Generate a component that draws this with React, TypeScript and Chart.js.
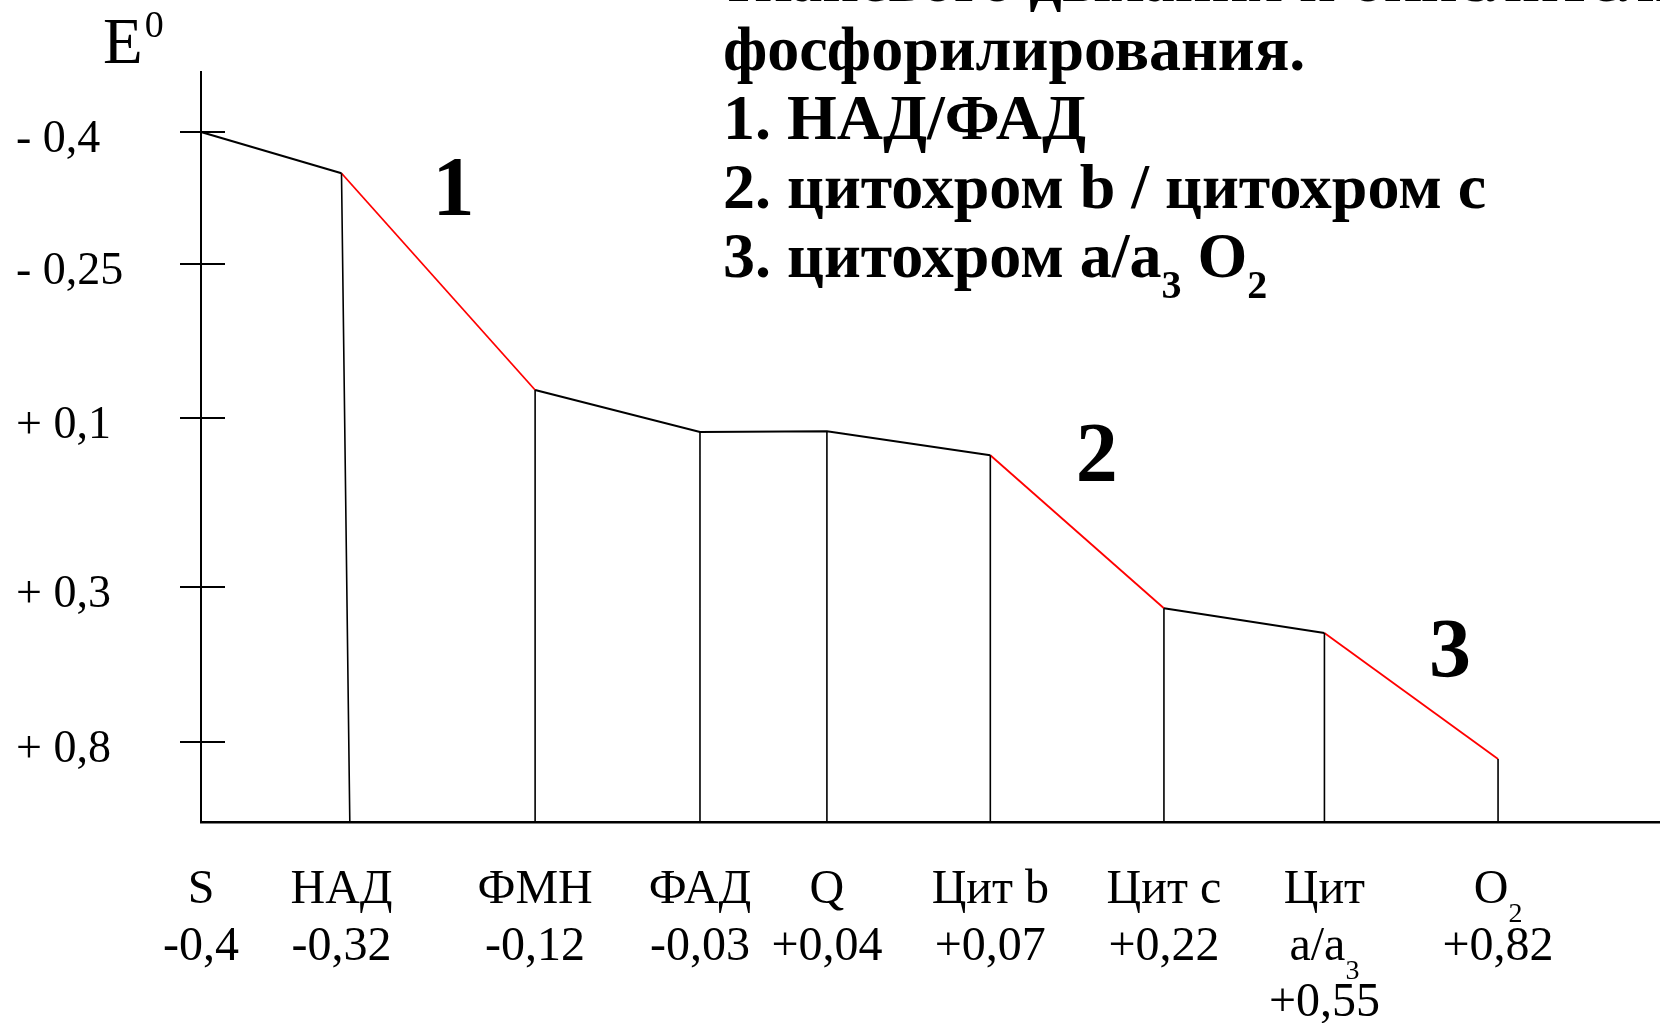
import React, { useEffect, useRef } from "react";
import { Chart, registerables } from "chart.js";

Chart.register(...registerables);

const SERIF = "'Liberation Serif', 'Times New Roman', 'DejaVu Serif', serif";

// x-axis carriers: "|" = line break, "_x" = subscript x
const carriers = ["S", "НАД", "ФМН", "ФАД", "Q", "Цит b", "Цит c", "Цит|a/a_3", "O_2"];
const potentials = ["-0,4", "-0,32", "-0,12", "-0,03", "+0,04", "+0,07", "+0,22", "+0,55", "+0,82"];
// horizontal position of each carrier (axis units 0..100)
const carrierX = [0, 9.63, 22.9, 34.2, 42.9, 54.1, 66.0, 77.0, 88.9];
// plotted level of each carrier on the schematic E0 axis (units 0..100, bottom = 0)
const carrierLevel = [92, 86.5, 57.6, 52.0, 52.1, 48.9, 28.5, 25.2, 8.4];
// foot of each drop line on the x axis
const dropBaseX = [0, 10.2, 22.9, 34.2, 42.9, 54.1, 66.0, 77.0, 88.9];

// y axis ticks
const yTickValues = [92, 74.4, 53.9, 31.3, 10.7];
const yTickLabels = ["- 0,4", "- 0,25", "+ 0,1", "+ 0,3", "+ 0,8"];

// coupling sites (red segments start at these point indices)
const couplingStart = [1, 5, 7];
const couplingNames = ["1", "2", "3"];
const couplingNameX = [17.3, 61.4, 85.6];
const couplingNameY = [84.4, 48.9, 22.7];

const axisTitle = "E";
const axisTitleSup = "0";

const titleLines = [
  "тканевого дыхания и окислительного",
  "фосфорилирования.",
  "1. НАД/ФАД",
  "2. цитохром b / цитохром c",
  "3. цитохром a/a_3 O_2",
];

type Seg = { text: string; sub: boolean };
function parseRich(s: string): Seg[] {
  const segs: Seg[] = [];
  let buf = "";
  for (let i = 0; i < s.length; i++) {
    if (s[i] === "_" && i + 1 < s.length) {
      if (buf) segs.push({ text: buf, sub: false });
      buf = "";
      segs.push({ text: s[i + 1], sub: true });
      i++;
    } else buf += s[i];
  }
  if (buf) segs.push({ text: buf, sub: false });
  return segs;
}

function drawRich(
  ctx: CanvasRenderingContext2D,
  s: string,
  x: number,
  y: number,
  size: number,
  weight: string,
  align: "left" | "center",
  subRatio: number,
  subDrop: number
) {
  const segs = parseRich(s);
  const mainFont = `${weight} ${size}px ${SERIF}`;
  const subFont = `${weight} ${Math.round(size * subRatio)}px ${SERIF}`;
  let w = 0;
  for (const sg of segs) {
    ctx.font = sg.sub ? subFont : mainFont;
    w += ctx.measureText(sg.text).width;
  }
  let cx = align === "center" ? x - w / 2 : x;
  ctx.textAlign = "left";
  ctx.textBaseline = "alphabetic";
  for (const sg of segs) {
    ctx.font = sg.sub ? subFont : mainFont;
    ctx.fillText(sg.text, cx, sg.sub ? y + subDrop : y);
    cx += ctx.measureText(sg.text).width;
  }
}

const decorPlugin = {
  id: "decor",
  afterDraw(chart: any) {
    const ctx: CanvasRenderingContext2D = chart.ctx;
    const xs = chart.scales.x;
    const ys = chart.scales.y;
    const area = chart.chartArea;
    ctx.save();
    ctx.fillStyle = "#000";
    ctx.strokeStyle = "#000";

    // y-axis cross ticks
    ctx.lineWidth = 2;
    for (const v of yTickValues) {
      const py = Math.round(ys.getPixelForValue(v));
      ctx.beginPath();
      ctx.moveTo(area.left - 21, py);
      ctx.lineTo(area.left + 24, py);
      ctx.stroke();
    }

    // axis title E0
    ctx.textAlign = "left";
    ctx.textBaseline = "alphabetic";
    ctx.font = `normal 65px ${SERIF}`;
    ctx.fillText(axisTitle, 103, 63);
    const ew = ctx.measureText(axisTitle).width;
    ctx.font = `normal 38px ${SERIF}`;
    ctx.fillText(axisTitleSup, 103 + ew + 2, 37);

    // coupling site numbers
    ctx.font = `bold 84px ${SERIF}`;
    ctx.textAlign = "center";
    ctx.textBaseline = "middle";
    couplingNames.forEach((n, i) => {
      ctx.fillText(n, xs.getPixelForValue(couplingNameX[i]), ys.getPixelForValue(couplingNameY[i]) + 4);
    });

    // x labels
    carriers.forEach((c, i) => {
      const px = xs.getPixelForValue(carrierX[i]);
      const lines = c.split("|").concat([potentials[i]]);
      lines.forEach((ln, j) => {
        drawRich(ctx, ln, px, area.bottom + 81 + j * 56.5, 48, "normal", "center", 0.58, 19);
      });
    });

    // title text
    titleLines.forEach((t, i) => {
      drawRich(ctx, t, 723, 1 + i * 69, 64, "bold", "left", 0.62, 21);
    });

    ctx.restore();
  },
};

export default function App() {
  const ref = useRef<HTMLCanvasElement>(null);

  useEffect(() => {
    document.body.style.margin = "0";
    const canvas = ref.current;
    if (!canvas) return;

    const mainData = carrierX.map((x, i) => ({ x, y: carrierLevel[i] }));
    const dropData: { x: number; y: number | null }[] = [];
    for (let i = 1; i < carrierX.length; i++) {
      dropData.push({ x: carrierX[i], y: carrierLevel[i] });
      dropData.push({ x: dropBaseX[i], y: 0 });
      dropData.push({ x: carrierX[i], y: null });
    }

    const chart = new Chart(canvas, {
      type: "line",
      data: {
        datasets: [
          {
            data: dropData as any,
            borderColor: "#000",
            borderWidth: 1.6,
            pointRadius: 0,
            spanGaps: false,
            tension: 0,
            clip: false as any,
          },
          {
            data: mainData as any,
            borderColor: "#000",
            borderWidth: 2.2,
            pointRadius: 0,
            tension: 0,
            clip: false as any,
            segment: {
              borderColor: (c: any) => (couplingStart.includes(c.p0DataIndex) ? "#ff0000" : "#000"),
              borderWidth: (c: any) => (couplingStart.includes(c.p0DataIndex) ? 1.8 : 2.2),
            },
          },
        ],
      },
      options: {
        responsive: false,
        devicePixelRatio: 1,
        animation: false,
        events: [],
        layout: { padding: { top: 72, left: 16, right: 0, bottom: 0 } },
        plugins: { legend: { display: false }, tooltip: { enabled: false } },
        scales: {
          x: {
            type: "linear",
            min: 0,
            max: 100,
            grid: { display: false },
            border: { display: true, color: "#000", width: 2.5 },
            ticks: { display: false },
            afterFit: (s: any) => {
              s.height = 201;
            },
          },
          y: {
            type: "linear",
            min: 0,
            max: 100,
            grid: { display: false },
            border: { display: true, color: "#000", width: 2 },
            afterBuildTicks: (s: any) => {
              s.ticks = yTickValues.map((v) => ({ value: v }));
            },
            afterFit: (s: any) => {
              s.width = 185;
            },
            ticks: {
              autoSkip: false,
              crossAlign: "far",
              color: "#000",
              padding: 0,
              labelOffset: 8,
              font: { family: SERIF, size: 46 },
              callback: (_v: any, i: number) => yTickLabels[i],
            },
          },
        },
      },
      plugins: [decorPlugin],
    });

    return () => chart.destroy();
  }, []);

  return (
    <div style={{ width: 1660, height: 1023, background: "#fff", overflow: "hidden" }}>
      <canvas ref={ref} width={1660} height={1023} style={{ display: "block", width: 1660, height: 1023 }} />
    </div>
  );
}
